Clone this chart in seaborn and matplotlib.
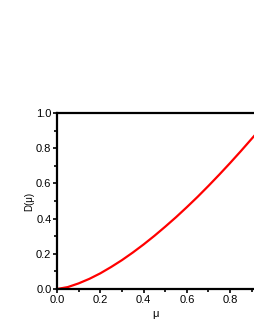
import matplotlib
matplotlib.use("Agg")
import matplotlib.pyplot as plt
import seaborn as sns
import pandas as pd
from matplotlib.ticker import MultipleLocator, FormatStrFormatter

mu = [0.0, 0.05, 0.10, 0.15, 0.20, 0.25, 0.30, 0.35, 0.40, 0.45, 0.50,
      0.55, 0.60, 0.65, 0.70, 0.75, 0.80, 0.85, 0.90, 0.915]
D = [0.0, 0.011, 0.032, 0.058, 0.089, 0.125, 0.164, 0.207, 0.253, 0.302, 0.354,
     0.408, 0.465, 0.524, 0.586, 0.650, 0.716, 0.784, 0.854, 0.875]

sns.set_style("white")
plt.rcParams['font.family'] = ['Liberation Sans', 'DejaVu Sans']

fig = plt.figure(figsize=(2.55, 3.3), dpi=100)
ax = fig.add_axes([0.2235, 0.1242, 0.7765, 0.5334])
df = pd.DataFrame({"mu": mu, "D": D})
sns.lineplot(data=df, x="mu", y="D", ax=ax, color="#ff0000", linewidth=1.6)

ax.set_xlim(0, 0.915)
ax.set_ylim(0, 1.0)
ax.xaxis.set_major_locator(MultipleLocator(0.2))
ax.xaxis.set_minor_locator(MultipleLocator(0.1))
ax.yaxis.set_major_locator(MultipleLocator(0.2))
ax.yaxis.set_minor_locator(MultipleLocator(0.1))
ax.xaxis.set_major_formatter(FormatStrFormatter('%.1f'))
ax.yaxis.set_major_formatter(FormatStrFormatter('%.1f'))

for s in ['left', 'bottom', 'top']:
    ax.spines[s].set_visible(True)
    ax.spines[s].set_linewidth(1.6)
    ax.spines[s].set_color('black')
ax.spines['right'].set_visible(False)

ax.tick_params(axis='both', which='major', direction='out', length=3, width=1.2,
               labelsize=8, pad=1, color='black', labelcolor='black')
ax.tick_params(axis='both', which='minor', direction='out', length=2, width=1.2, color='black')
ax.tick_params(axis='x', which='both', top=False, bottom=True)
ax.tick_params(axis='y', which='both', left=True, right=False)

ax.set_xlabel("μ", fontsize=8, labelpad=3, color='black')
ax.set_ylabel("D(μ)", fontsize=7, labelpad=1, color='black')

fig.savefig("out.png", dpi=100)
